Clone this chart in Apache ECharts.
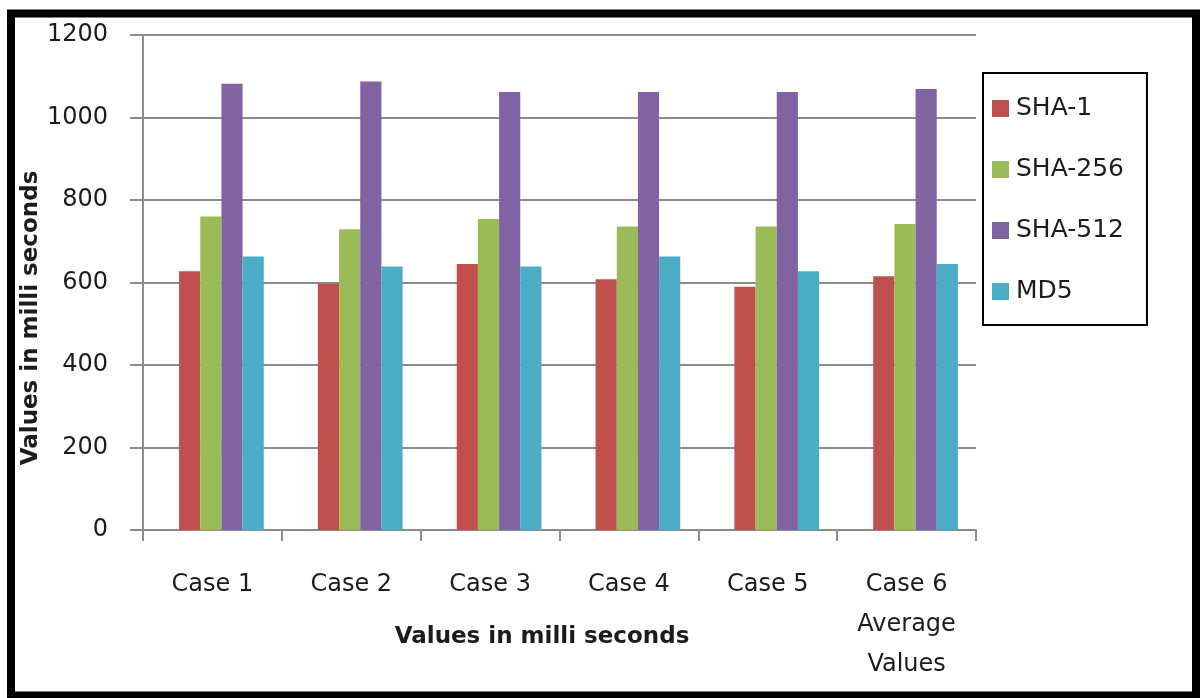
<!DOCTYPE html>
<html>
<head>
<meta charset="utf-8">
<script src="https://cdn.jsdelivr.net/npm/echarts@6/dist/echarts.min.js"></script>
<style>
  html, body { margin: 0; padding: 0; background: #fff; }
  #chart { width: 1202px; height: 698px; }
</style>
</head>
<body>
<div id="chart"></div>
<script>
// Hash timing per test case (milliseconds)
const categories = ['Case 1', 'Case 2', 'Case 3', 'Case 4', 'Case 5', 'Case 6\nAverage\nValues'];
const sha1   = [627, 597, 645, 608, 590, 615];
const sha256 = [760, 729, 754, 736, 736, 742];
const sha512 = [1082, 1087, 1062, 1062, 1062, 1069];
const md5    = [663, 639, 639, 663, 627, 645];
const seriesNames = ['SHA-1', 'SHA-256', 'SHA-512', 'MD5'];
const seriesColors = ['#C0504D', '#9BBB59', '#8064A2', '#4BACC6'];
const yTicks = { min: 0, max: 1200, interval: 200 };
const axisTitle = 'Values in milli seconds';

const FONT = '"DejaVu Sans", sans-serif';
const TEXT = '#1c1c1c';
const AXIS_GREY = '#8c8c8c';

const chart = echarts.init(document.getElementById('chart'), null, { renderer: 'canvas' });

const values = [sha1, sha256, sha512, md5];

chart.setOption({
  animation: false,
  backgroundColor: '#fff',
  // grid 0 carries the visible axes, grid 1 the bar clusters (sitting slightly right of the tick cells)
  grid: [
    { left: 143, right: 226, top: 35, bottom: 168, containLabel: false },
    { left: 152, right: 217, top: 35, bottom: 168, containLabel: false }
  ],
  legend: {
    orient: 'vertical',
    left: 983,
    top: 73,
    padding: [23, 23, 21, 9],
    itemWidth: 17,
    itemHeight: 17,
    itemGap: 36,
    borderColor: '#000',
    borderWidth: 2,
    icon: 'rect',
    data: seriesNames,
    textStyle: { fontFamily: FONT, fontSize: 25, color: TEXT, lineHeight: 24, padding: [0, 0, 0, 2] }
  },
  xAxis: [
    {
      type: 'category',
      gridIndex: 0,
      data: categories,
      axisLine: { show: true, lineStyle: { color: AXIS_GREY, width: 2 } },
      axisTick: { show: true, length: 11, lineStyle: { color: AXIS_GREY, width: 2 } },
      axisLabel: {
        interval: 0,
        margin: 35,
        fontFamily: FONT,
        fontSize: 24,
        lineHeight: 40,
        color: TEXT
      },
      splitLine: { show: false }
    },
    {
      type: 'category',
      gridIndex: 1,
      data: categories,
      show: false
    }
  ],
  yAxis: [
    {
      type: 'value',
      gridIndex: 0,
      min: yTicks.min,
      max: yTicks.max,
      interval: yTicks.interval,
      axisLine: { show: true, lineStyle: { color: AXIS_GREY, width: 2 } },
      axisTick: { show: true, length: 13, lineStyle: { color: AXIS_GREY, width: 2 } },
      axisLabel: { margin: 35, fontFamily: FONT, fontSize: 24, color: TEXT, formatter: v => String(v) },
      splitLine: { show: true, lineStyle: { color: AXIS_GREY, width: 2 } }
    },
    {
      type: 'value',
      gridIndex: 1,
      min: yTicks.min,
      max: yTicks.max,
      interval: yTicks.interval,
      show: false,
      splitLine: { show: false }
    }
  ],
  series: seriesNames.map((name, i) => ({
    name,
    type: 'bar',
    xAxisIndex: 1,
    yAxisIndex: 1,
    data: values[i],
    barGap: '0%',
    barCategoryGap: '39%',
    itemStyle: { color: seriesColors[i] },
    z: 3
  })),
  graphic: [
    {
      type: 'text',
      x: 31,
      y: 318,
      rotation: Math.PI / 2,
      style: {
        text: axisTitle,
        fontFamily: FONT,
        fontWeight: 'bold',
        fontSize: 23,
        fill: TEXT,
        align: 'center',
        verticalAlign: 'middle'
      }
    },
    {
      type: 'text',
      x: 542,
      y: 637,
      style: {
        text: axisTitle,
        fontFamily: FONT,
        fontWeight: 'bold',
        fontSize: 23,
        fill: TEXT,
        align: 'center',
        verticalAlign: 'middle'
      }
    },
    {
      type: 'rect',
      shape: { x: 11, y: 13.5, width: 1185, height: 682 },
      style: { fill: 'none', stroke: '#000', lineWidth: 8 },
      z: 100
    }
  ]
});
</script>
</body>
</html>
